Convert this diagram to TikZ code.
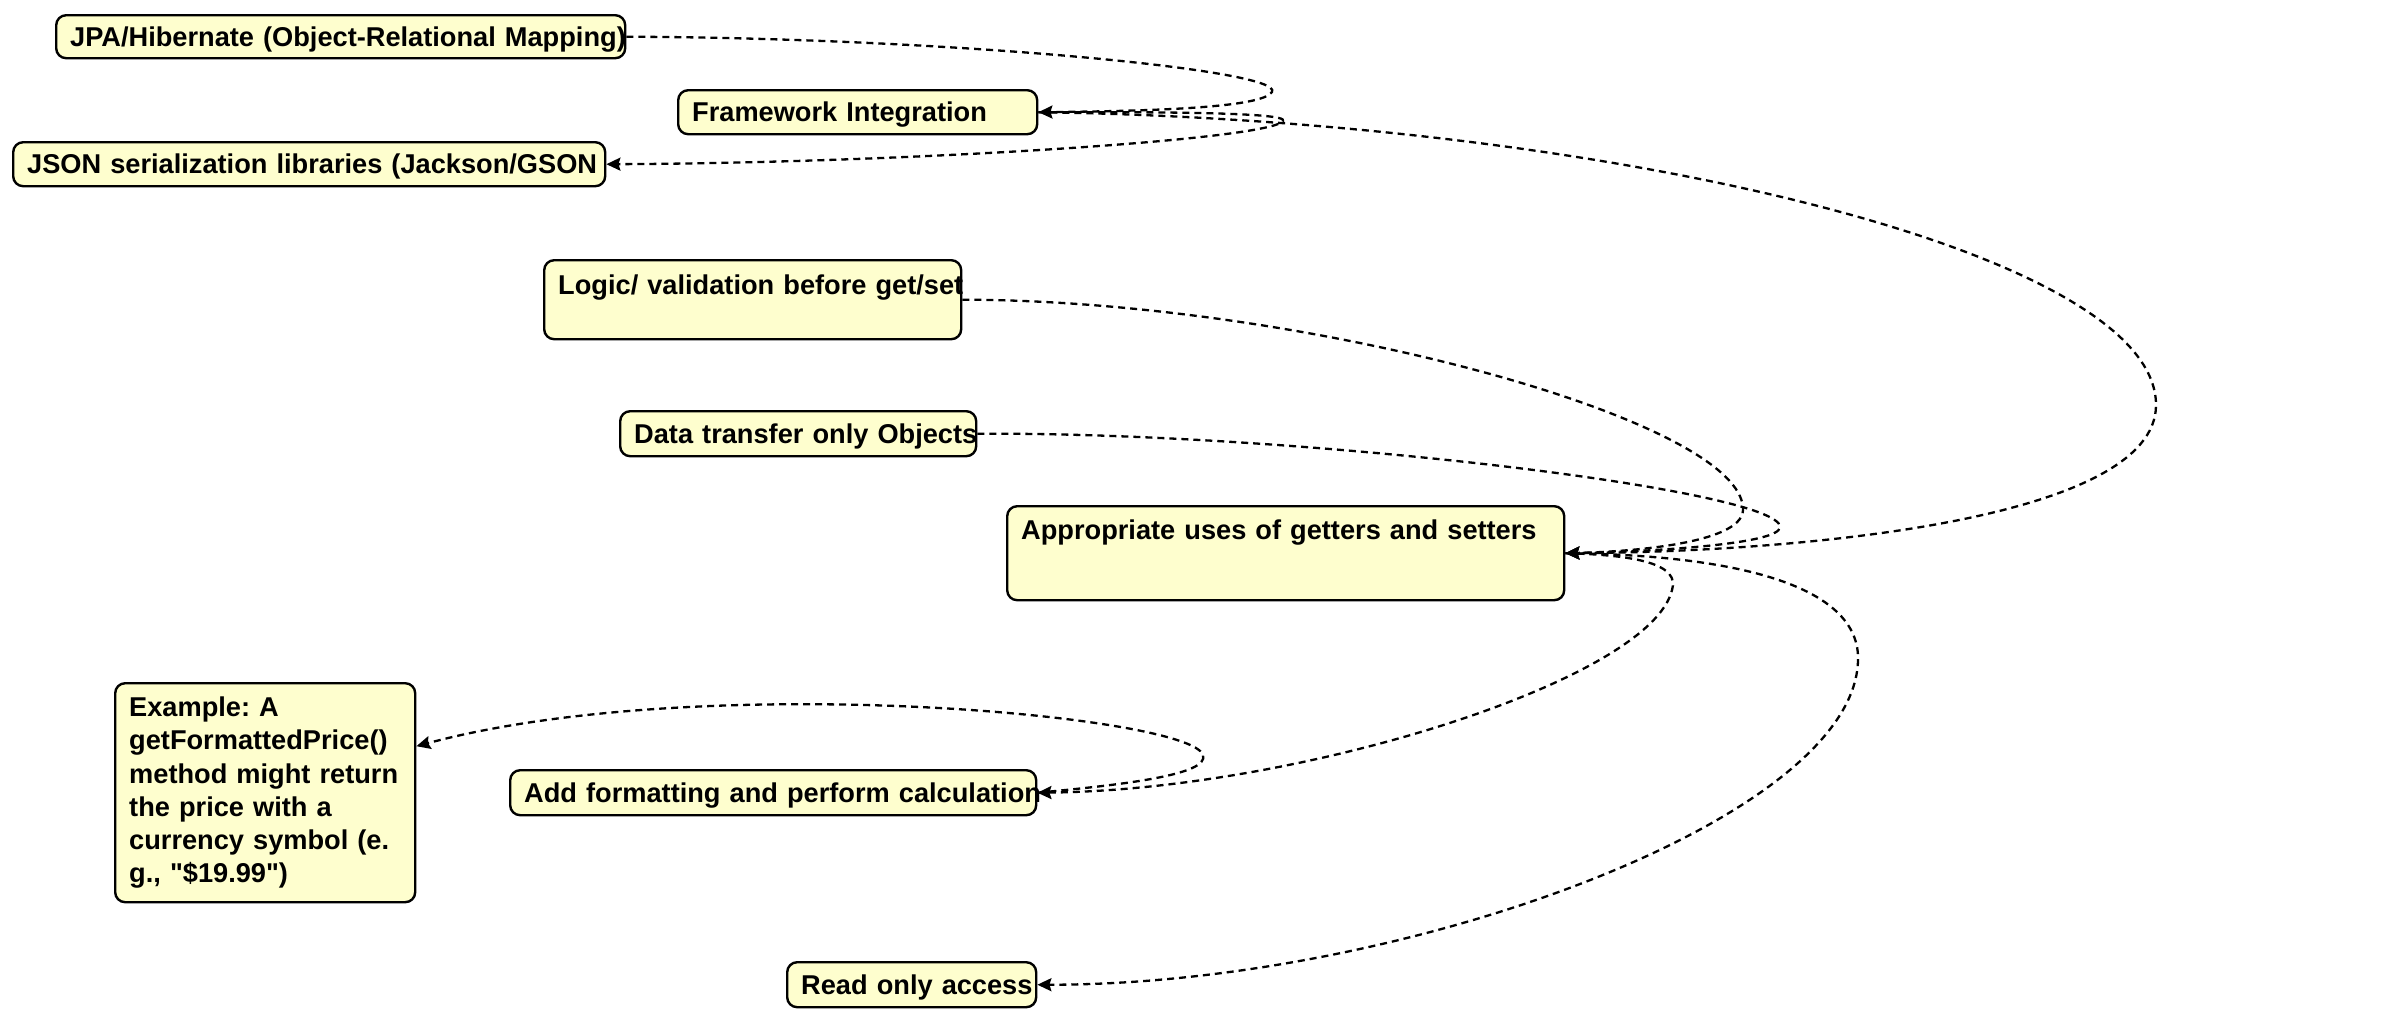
\documentclass[tikz,border=0pt]{standalone}
\usepackage{fontspec}
\setmainfont{Liberation Sans}[Ligatures=TeXOff]
\usetikzlibrary{arrows.meta,calc}
\definecolor{boxfill}{HTML}{FEFECE}
\frenchspacing
\tikzset{
  box/.style={draw=black, fill=boxfill, rounded corners=5pt, line width=1.2pt,
    inner xsep=7pt, inner ysep=0pt, anchor=north west, align=left,
    font=\bfseries\fontsize{13.6}{16.6}\selectfont},
  oneline/.style={text height=9.7pt, text depth=0pt},
  link/.style={draw=black, line width=1.15pt, dash pattern=on 3.5pt off 2.5pt},
  arr/.style={-{Stealth[length=7pt,width=6.5pt,inset=1pt]}}
}
\begin{document}
\begin{tikzpicture}[x=0.5pt,y=-0.5pt]
\useasboundingbox (0,0) rectangle (2398,1018);
% nodes
\node[box,oneline,minimum width=284.5pt,minimum height=21.5pt,text width=270.5pt] (jpa) at (55,14) {\mbox{JPA/Hibernate (Object-Relational Mapping)}};
\node[box,oneline,minimum width=179.5pt,minimum height=22pt,text width=165.5pt] (fw) at (677,89) {\mbox{Framework Integration}};
\node[box,oneline,minimum width=296pt,minimum height=22pt,text width=282pt] (json) at (12,141) {\mbox{JSON serialization libraries (Jackson/GSON}};
\node[box,minimum width=208.5pt,minimum height=39.5pt,text width=194.5pt,text height=17.3pt,text depth=22.2pt] (logic) at (543,259) {\mbox{Logic/ validation before get/set}};
\node[box,oneline,minimum width=178pt,minimum height=22.5pt,text width=164pt] (data) at (619,410) {\mbox{Data transfer only Objects}};
\node[box,minimum width=278.5pt,minimum height=47pt,text width=264.5pt,text height=16.4pt,text depth=30.6pt] (app) at (1006,505) {\mbox{Appropriate uses of getters and setters}};
\node[box,minimum width=150pt,minimum height=109.5pt,text width=136pt] (ex) at (114,682) {Example: A\\getFormattedPrice()\\method might return\\the price with a\\currency symbol (e.\\g., "\$19.99")};
\node[box,oneline,minimum width=263pt,minimum height=22.5pt,text width=249pt] (add) at (509,769) {\mbox{Add formatting and perform calculation}};
\node[box,oneline,minimum width=124.5pt,minimum height=22.5pt,text width=110.5pt] (ro) at (786,961) {\mbox{Read only access}};
% connectors
\draw[link,arr] (jpa.east) .. controls (950,38) and (1285,70) .. (1272,92) .. controls (1262,108) and (1150,111) .. (fw.east);
\draw[link,arr] (fw.east) .. controls (1150,112) and (1290,112) .. (1283,121) .. controls (1270,140) and (900,163) .. (json.east);
\draw[link,arr] (fw.east) .. controls (1600,120) and (2156,250) .. (2156,405) .. controls (2156,520) and (1800,552) .. (app.east);
\draw[link,arr] (logic.east) .. controls (1300,300) and (1745,420) .. (1743,510) .. controls (1742,545) and (1620,552) .. (app.east);
\draw[link,arr] (data.east) .. controls (1300,432) and (1780,490) .. (1780,527) .. controls (1780,545) and (1640,552) .. (app.east);
\draw[link,arr] (app.east) .. controls (1640,555) and (1680,565) .. (1672,590) .. controls (1650,680) and (1300,790) .. (add.east);
\draw[link,arr] (app.east) .. controls (1750,555) and (1860,590) .. (1858,660) .. controls (1855,820) and (1400,985) .. (ro.east);
\draw[link,arr] (add.east) .. controls (1120,785) and (1210,775) .. (1203,755) .. controls (1190,715) and (700,670) .. ($(ex.north east)!0.29!(ex.south east)$);
\end{tikzpicture}
\end{document}
